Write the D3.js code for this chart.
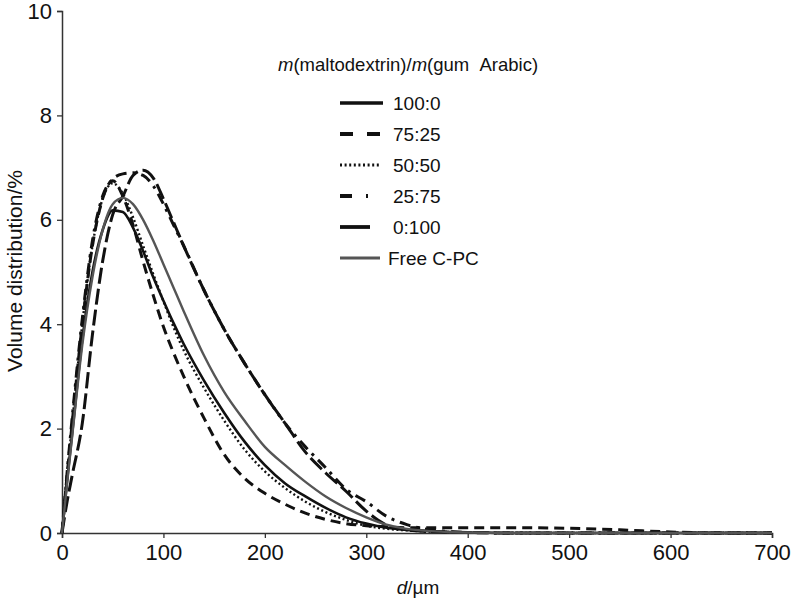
<!DOCTYPE html>
<html>
<head>
<meta charset="utf-8">
<script src="https://cdn.jsdelivr.net/npm/d3@7"></script>
<style>
  body { margin: 0; background: #fff; }
  text { font-family: "Liberation Sans", Arial, sans-serif; fill: #111; }
</style>
</head>
<body>
<div id="chart"></div>
<script>
// particle sizes (x values, um) shared by every series
var sizes = [0, 5, 10, 20, 30, 40, 50, 60, 70, 80, 90, 100, 110, 120, 140, 160, 180, 200,
             220, 240, 260, 280, 300, 320, 340, 360, 380, 400, 450, 500, 550, 600, 650, 700];

// volume distribution (%), one array per sample
var ratio100_0 = [0, 1.0, 1.9, 3.7, 5.0, 5.8, 6.18, 6.15, 5.85, 5.4, 4.9, 4.45, 4.02, 3.62, 2.92, 2.3, 1.75, 1.3,
                  0.95, 0.7, 0.48, 0.3, 0.18, 0.1, 0.06, 0.04, 0.02, 0.01, 0, 0, 0, 0, 0, 0];
var ratio75_25 = [0, 1.1, 2.1, 4.0, 5.5, 6.4, 6.75, 6.45, 5.9, 5.2, 4.55, 3.95, 3.45, 3.0, 2.2, 1.5, 1.05, 0.76,
                  0.55, 0.38, 0.26, 0.18, 0.14, 0.12, 0.1, 0.1, 0.1, 0.1, 0.1, 0.09, 0.06, 0.02, 0, 0];
var ratio50_50 = [0, 1.1, 2.1, 4.0, 5.5, 6.4, 6.7, 6.5, 6.05, 5.5, 4.96, 4.44, 3.94, 3.5, 2.78, 2.15, 1.6, 1.18,
                  0.86, 0.6, 0.4, 0.25, 0.14, 0.08, 0.05, 0.03, 0.02, 0.01, 0, 0, 0, 0, 0, 0];
var ratio25_75 = [0, 1.15, 2.2, 4.1, 5.6, 6.45, 6.78, 6.88, 6.9, 6.85, 6.65, 6.3, 5.9, 5.5, 4.65, 3.9, 3.25, 2.65,
                  2.1, 1.65, 1.25, 0.84, 0.6, 0.32, 0.16, 0.07, 0.03, 0.01, 0, 0, 0, 0, 0, 0];
var ratio0_100 = [0, 0.6, 1.1, 2.1, 3.8, 5.2, 6.1, 6.45, 6.85, 6.95, 6.8, 6.4, 5.95, 5.5, 4.65, 3.9, 3.25, 2.65,
                  2.1, 1.55, 1.15, 0.8, 0.42, 0.15, 0.06, 0.03, 0.02, 0.01, 0, 0, 0, 0, 0, 0];
var freeCPC    = [0, 0.95, 1.85, 3.6, 4.9, 5.8, 6.3, 6.42, 6.3, 6.0, 5.6, 5.15, 4.7, 4.25, 3.4, 2.7, 2.15, 1.65,
                  1.3, 0.98, 0.7, 0.48, 0.3, 0.16, 0.08, 0.04, 0.02, 0.01, 0, 0, 0, 0, 0, 0];

// legend labels and tick values
var labels = ["100:0", "75:25", "50:50", "25:75", "0:100", "Free C-PC"];
var xTicks = [0, 100, 200, 300, 400, 500, 600, 700];
var yTicks = [0, 2, 4, 6, 8, 10];

// series table (line style per label)
var series = [
  {name: labels[0], values: ratio100_0, color: "#111", width: 2.6, dash: null},
  {name: labels[1], values: ratio75_25, color: "#111", width: 3,   dash: "10,6"},
  {name: labels[2], values: ratio50_50, color: "#111", width: 2.4, dash: "2,2.6"},
  {name: labels[3], values: ratio25_75, color: "#111", width: 3,   dash: "11,6,3,6"},
  {name: labels[4], values: ratio0_100, color: "#111", width: 3,   dash: "16,5"},
  {name: labels[5], values: freeCPC,    color: "#555", width: 2.4, dash: null}
];
// legend swatch dashes differ a little from the plotted ones
var legendDash = [null, "13,14", "2,2.6", "12,14,3,6", null, null];
var sampleLen = [43, 42, 40, 28, 30, 40];

var width = 794, height = 605;
var margin = {top: 11, right: 22, bottom: 72, left: 62};

var svg = d3.select("#chart").append("svg")
    .attr("width", width)
    .attr("height", height);

var x = d3.scaleLinear().domain([0, 700]).range([margin.left, width - margin.right]);
var y = d3.scaleLinear().domain([0, 10]).range([height - margin.bottom, margin.top]);

// axes
var xAxis = svg.append("g")
    .attr("transform", "translate(0," + y(0) + ")")
    .call(d3.axisBottom(x).tickValues(xTicks).tickSize(5).tickPadding(3).tickFormat(d3.format("d")));
var yAxis = svg.append("g")
    .attr("transform", "translate(" + x(0) + ",0)")
    .call(d3.axisLeft(y).tickValues(yTicks).tickSize(5).tickPadding(5).tickFormat(d3.format("d")));

[xAxis, yAxis].forEach(function (a) {
  a.select(".domain").attr("stroke", "#333").attr("stroke-width", 1.5);
  a.selectAll(".tick line").attr("stroke", "#333").attr("stroke-width", 1.3);
  a.selectAll(".tick text")
      .style("font-family", "'Liberation Sans', Arial, sans-serif")
      .style("font-size", "22px")
      .attr("fill", "#111");
});
xAxis.selectAll(".tick text").attr("dy", "0.85em");

// axis titles
var xTitle = svg.append("text")
    .attr("x", 418).attr("y", 594)
    .attr("text-anchor", "middle")
    .style("font-size", "19px");
xTitle.append("tspan").style("font-style", "italic").text("d");
xTitle.append("tspan").text("/\u00b5m");

svg.append("text")
    .attr("transform", "translate(22," + 271 + ") rotate(-90)")
    .attr("text-anchor", "middle")
    .style("font-size", "21px")
    .text("Volume distribution/%");

// curves, dashed ones first so the solid peaks sit on top
var line = d3.line()
    .x(function (d) { return x(d[0]); })
    .y(function (d) { return y(d[1]); })
    .curve(d3.curveMonotoneX);

var drawOrder = [4, 3, 1, 2, 0, 5];
drawOrder.forEach(function (i) {
  var s = series[i];
  svg.append("path")
      .datum(sizes.map(function (d, k) { return [d, s.values[k]]; }))
      .attr("fill", "none")
      .attr("stroke", s.color)
      .attr("stroke-width", s.width)
      .attr("stroke-dasharray", s.dash)
      .attr("d", line);
});

// legend
var lg = svg.append("g");
var legTitle = lg.append("text")
    .attr("x", 278).attr("y", 71)
    .style("font-size", "18.5px");
legTitle.append("tspan").style("font-style", "italic").text("m");
legTitle.append("tspan").text("(maltodextrin)/");
legTitle.append("tspan").style("font-style", "italic").text("m");
legTitle.append("tspan").text("(gum\u00a0\u00a0Arabic)");

var legY = d3.scalePoint().domain(labels).range([103, 258]);
series.forEach(function (s, i) {
  var yy = legY(s.name);
  lg.append("line")
      .attr("x1", 340).attr("x2", 340 + sampleLen[i])
      .attr("y1", yy).attr("y2", yy)
      .attr("stroke", s.color)
      .attr("stroke-width", s.width + 0.8)
      .attr("stroke-dasharray", legendDash[i]);
  lg.append("text")
      .attr("x", i === 5 ? 388 : 393)
      .attr("y", yy)
      .attr("dy", "0.36em")
      .style("font-size", "19px")
      .text(s.name);
});
</script>
</body>
</html>
